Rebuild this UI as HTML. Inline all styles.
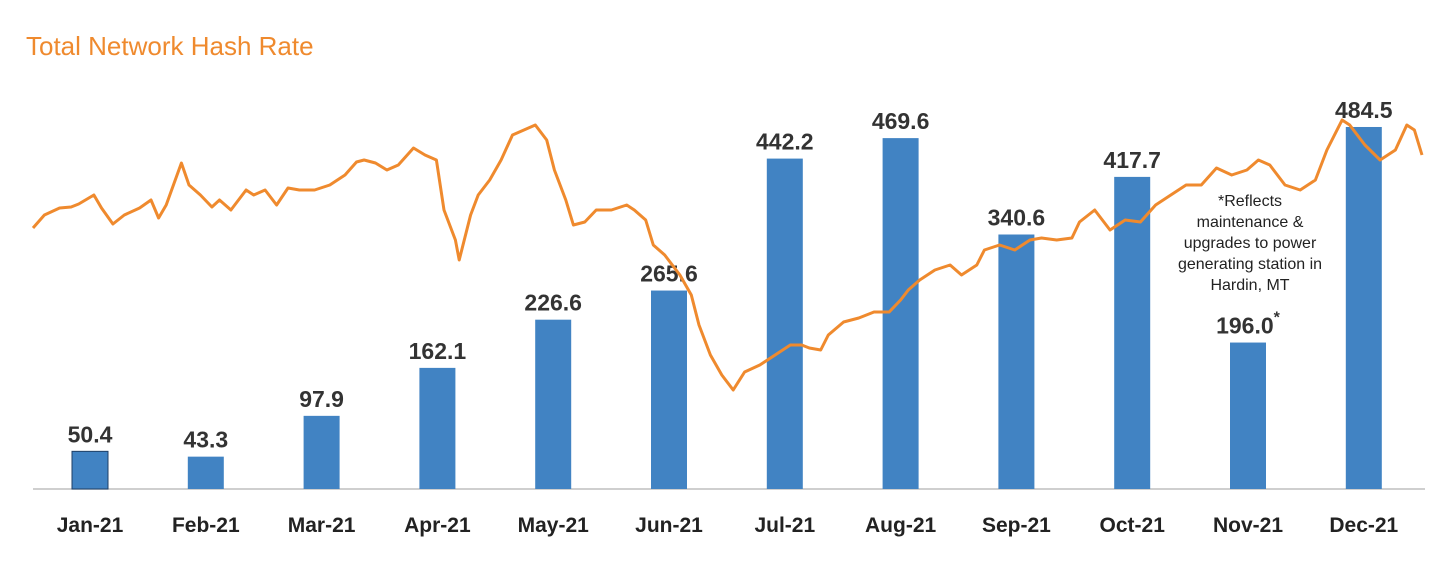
<!DOCTYPE html>
<html><head><meta charset="utf-8"><style>
html,body{margin:0;padding:0;background:#fff;}
svg{display:block;font-family:"Liberation Sans",sans-serif;}
</style></head><body>
<svg id="chart" width="1456" height="564" viewBox="0 0 1456 564" xmlns="http://www.w3.org/2000/svg">
<text x="26" y="55" font-size="26" fill="#ef8a2e">Total Network Hash Rate</text>
<line x1="33" y1="489" x2="1425" y2="489" stroke="#bfbfbf" stroke-width="1.5"/>
<g id="bars"></g>
<g id="labels"></g>
<g id="xticks"></g>
<path id="line" fill="none" stroke="#ef8a2e" stroke-width="3" stroke-linejoin="round"/>
<g font-size="16" fill="#222" text-anchor="middle">
<text x="1250" y="206">*Reflects</text>
<text x="1250" y="227">maintenance &amp;</text>
<text x="1250" y="248">upgrades to power</text>
<text x="1250" y="269">generating station in</text>
<text x="1250" y="290">Hardin, MT</text>
</g>
</svg>
<script>
const months = ["Jan-21","Feb-21","Mar-21","Apr-21","May-21","Jun-21","Jul-21","Aug-21","Sep-21","Oct-21","Nov-21","Dec-21"];
const barValues = [50.4,43.3,97.9,162.1,226.6,265.6,442.2,469.6,340.6,417.7,196.0,484.5];
const barLabels = ["50.4","43.3","97.9","162.1","226.6","265.6","442.2","469.6","340.6","417.7","196.0","484.5"];
const lineDays = [0,3,7,10,12,16,18,21,24,28,31,33,35,39,41,44,47,49,52,56,58,61,64,67,70,74,78,82,85,87,90,93,96,100,103,106,108,111,112,115,117,120,123,126,129,132,135,137,140,142,145,148,152,156,158,161,163,166,170,173,175,178,181,184,187,191,195,199,202,204,207,209,213,217,221,225,228,230,233,237,241,244,248,250,254,258,262,265,269,273,275,279,283,287,291,295,299,303,307,311,315,319,322,325,329,333,337,340,344,346,350,354,358,361,363,365];
const lineValues = [272,285,292,293,296,305,292,276,285,292,300,282,295,337,315,305,293,300,290,310,305,310,295,312,310,310,315,325,338,340,337,330,335,352,345,340,290,260,240,285,305,320,340,365,370,375,360,330,300,275,278,290,290,295,290,280,255,245,225,205,175,145,125,110,128,135,145,155,155,152,150,165,178,182,188,188,200,210,220,230,235,225,235,250,255,250,260,262,260,262,278,290,270,280,278,295,305,315,315,332,325,330,340,335,315,310,320,350,380,375,355,340,350,375,370,345];
const NS="http://www.w3.org/2000/svg";
const base=489,barW=36;
function xBand(i){return 90+i*115.8;}
function yBar(v){return base-v*0.7472;}
function xDay(d){return 33+d*1389/365;}
function yLine(v){return 500-v;}
const gb=document.getElementById('bars'),gl=document.getElementById('labels'),gx=document.getElementById('xticks');
months.forEach((m,i)=>{
  const r=document.createElementNS(NS,'rect');
  
  
  r.setAttribute('x',xBand(i)-barW/2);r.setAttribute('y',yBar(barValues[i]));
  r.setAttribute('width',barW);r.setAttribute('height',base-yBar(barValues[i]));
  r.setAttribute('fill','#4183c3');
  if(i===0){r.setAttribute('stroke','#1f3f66');r.setAttribute('stroke-width','1');}
  gb.appendChild(r);
  const t=document.createElementNS(NS,'text');
  
  
  t.setAttribute('x',xBand(i));t.setAttribute('y',yBar(barValues[i])-9);
  t.setAttribute('text-anchor','middle');t.setAttribute('font-size','23');t.setAttribute('font-weight','bold');t.setAttribute('fill','#333');
  t.textContent=barLabels[i];
  if(i===10){const s=document.createElementNS(NS,'tspan');s.setAttribute('dy','-11');s.setAttribute('font-size','16');s.textContent='*';t.appendChild(s);}
  gl.appendChild(t);
  const mt=document.createElementNS(NS,'text');
  
  
  mt.setAttribute('x',xBand(i));mt.setAttribute('y',532);
  mt.setAttribute('text-anchor','middle');mt.setAttribute('font-size','21');mt.setAttribute('font-weight','bold');mt.setAttribute('fill','#222');
  mt.textContent=m;gx.appendChild(mt);
});
document.getElementById('line').setAttribute('d',lineDays.map((d,i)=>(i?'L':'M')+xDay(d).toFixed(1)+','+yLine(lineValues[i]).toFixed(1)).join(''));
</script>
</body></html>
